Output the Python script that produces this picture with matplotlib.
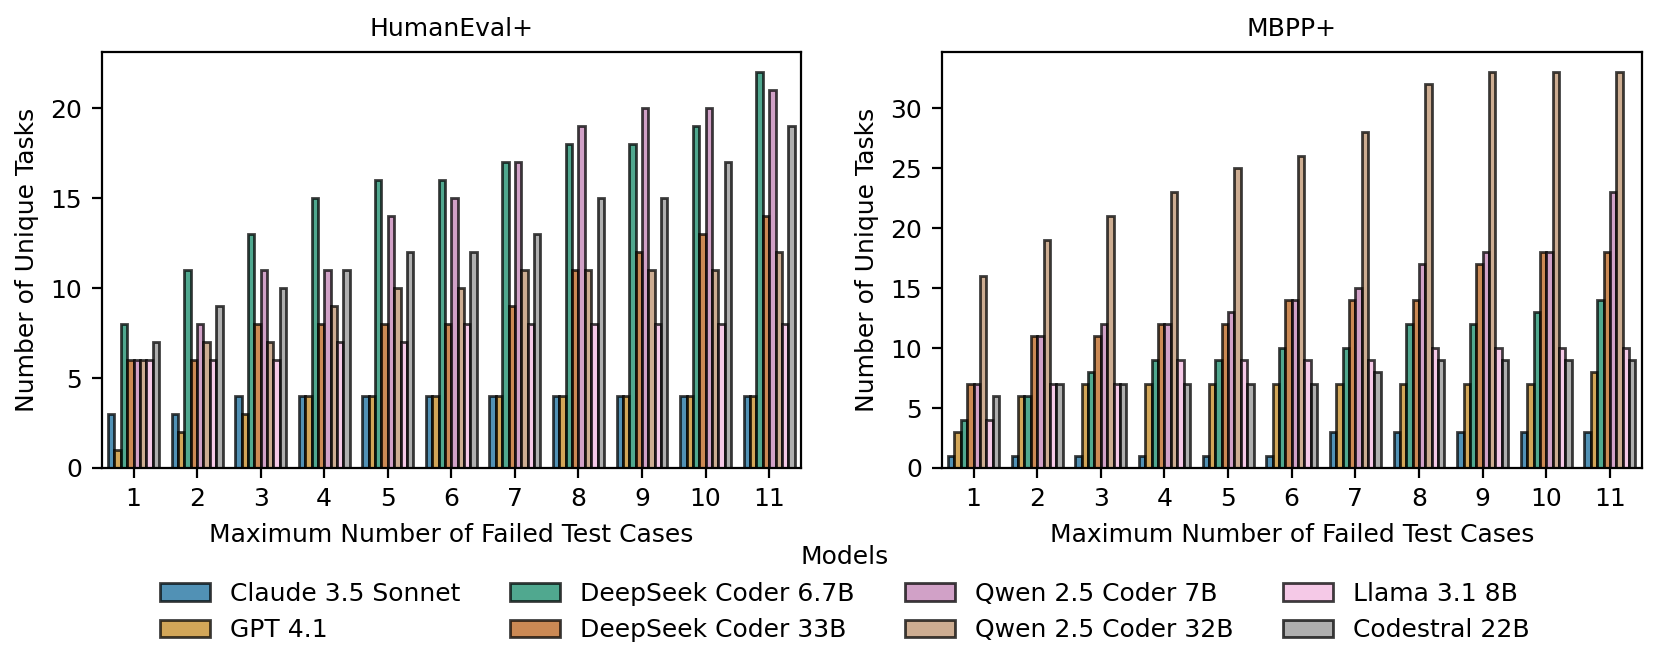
import matplotlib
matplotlib.use("Agg")
import matplotlib.pyplot as plt
import matplotlib.colors as mcolors
import colorsys
import numpy as np

models = ["Claude 3.5 Sonnet", "GPT 4.1", "DeepSeek Coder 6.7B", "DeepSeek Coder 33B",
          "Qwen 2.5 Coder 7B", "Qwen 2.5 Coder 32B", "Llama 3.1 8B", "Codestral 22B"]
base_colors = ["#0173b2", "#de8f05", "#029e73", "#d55e00", "#cc78bc", "#ca9161", "#fbafe4", "#949494"]
max_failed = [1, 2, 3, 4, 5, 6, 7, 8, 9, 10, 11]

humaneval = {
    "Claude 3.5 Sonnet":   [3, 3, 4, 4, 4, 4, 4, 4, 4, 4, 4],
    "GPT 4.1":             [1, 2, 3, 4, 4, 4, 4, 4, 4, 4, 4],
    "DeepSeek Coder 6.7B": [8, 11, 13, 15, 16, 16, 17, 18, 18, 19, 22],
    "DeepSeek Coder 33B":  [6, 6, 8, 8, 8, 8, 9, 11, 12, 13, 14],
    "Qwen 2.5 Coder 7B":   [6, 8, 11, 11, 14, 15, 17, 19, 20, 20, 21],
    "Qwen 2.5 Coder 32B":  [6, 7, 7, 9, 10, 10, 11, 11, 11, 11, 12],
    "Llama 3.1 8B":        [6, 6, 6, 7, 7, 8, 8, 8, 8, 8, 8],
    "Codestral 22B":       [7, 9, 10, 11, 12, 12, 13, 15, 15, 17, 19],
}
mbpp = {
    "Claude 3.5 Sonnet":   [1, 1, 1, 1, 1, 1, 3, 3, 3, 3, 3],
    "GPT 4.1":             [3, 6, 7, 7, 7, 7, 7, 7, 7, 7, 8],
    "DeepSeek Coder 6.7B": [4, 6, 8, 9, 9, 10, 10, 12, 12, 13, 14],
    "DeepSeek Coder 33B":  [7, 11, 11, 12, 12, 14, 14, 14, 17, 18, 18],
    "Qwen 2.5 Coder 7B":   [7, 11, 12, 12, 13, 14, 15, 17, 18, 18, 23],
    "Qwen 2.5 Coder 32B":  [16, 19, 21, 23, 25, 26, 28, 32, 33, 33, 33],
    "Llama 3.1 8B":        [4, 7, 7, 9, 9, 9, 9, 10, 10, 10, 10],
    "Codestral 22B":       [6, 7, 7, 7, 7, 7, 8, 9, 9, 9, 9],
}


def desaturate(c, prop=0.75):
    r, g, b = mcolors.to_rgb(c)
    h, l, s = colorsys.rgb_to_hls(r, g, b)
    return colorsys.hls_to_rgb(h, l, s * prop)


colors = [desaturate(c) for c in base_colors]

plt.rcParams['font.family'] = ['DejaVu Sans']
plt.rcParams['font.size'] = 9

fig = plt.figure(figsize=(8.3, 3.35), dpi=200)
ax1 = fig.add_axes([0.0613, 0.3015, 0.4212, 0.6205])
ax2 = fig.add_axes([0.5673, 0.3015, 0.4217, 0.6205])


def draw(ax, data, title):
    x = np.arange(len(max_failed))
    n = len(models)
    w = 0.8 / n
    handles = []
    for i, (m, c) in enumerate(zip(models, colors)):
        h = ax.bar(x - 0.4 + w * (i + 0.5), data[m], width=w, color=c, alpha=0.75,
                   edgecolor="black", linewidth=1.0, label=m)
        handles.append(h)
    ax.set_xticks(x)
    ax.set_xticklabels([str(v) for v in max_failed])
    ax.set_xlim(-0.5, len(max_failed) - 0.5)
    ax.set_title(title, fontsize=9)
    ax.set_xlabel("Maximum Number of Failed Test Cases", fontsize=9)
    ax.set_ylabel("Number of Unique Tasks", fontsize=9)
    ax.tick_params(labelsize=9)
    return handles


handles = draw(ax1, humaneval, "HumanEval+")
draw(ax2, mbpp, "MBPP+")

fig.legend(handles, models, title="Models", ncol=4, loc="upper center",
           bbox_to_anchor=(0.509, 0.22), frameon=False, fontsize=9, title_fontsize=9)

fig.savefig("out.png", dpi=200)
